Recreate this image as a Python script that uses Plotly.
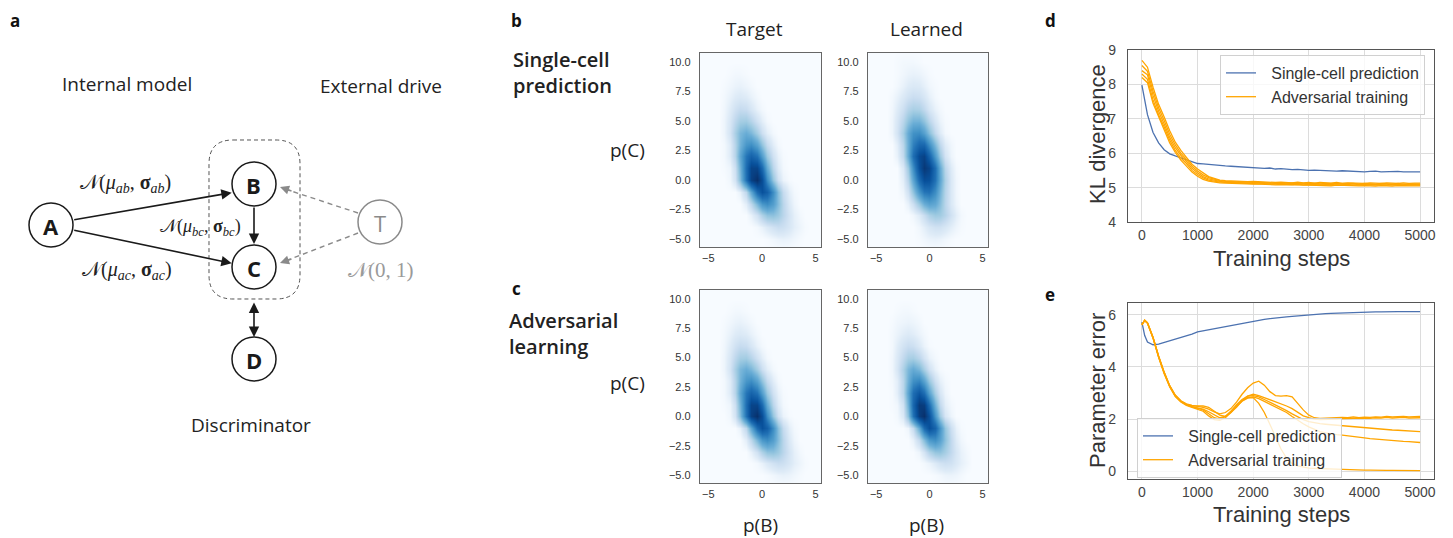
import plotly.graph_objects as go
import numpy as np

W, H = 1453, 538

# ---------------- DATA ----------------
# Panel d: KL divergence vs training steps
steps_kl = [0, 100, 200, 300, 400, 500, 600, 700, 800, 900,
            1000, 1100, 1200, 1300, 1400, 1500, 1600, 1700, 1800, 1900,
            2000, 2100, 2200, 2300, 2400, 2500, 2600, 2700, 2800, 2900,
            3000, 3100, 3200, 3300, 3400, 3500, 3600, 3700, 3800, 3900,
            4000, 4100, 4200, 4300, 4400, 4500, 4600, 4700, 4800, 4900, 5000]
kl_single = [7.98, 7.12, 6.60, 6.30, 6.10, 5.98, 5.92, 5.86, 5.80, 5.74,
             5.70, 5.69, 5.67, 5.66, 5.65, 5.63, 5.62, 5.61, 5.60, 5.58,
             5.59, 5.57, 5.56, 5.57, 5.54, 5.55, 5.53, 5.52, 5.53, 5.51,
             5.50, 5.51, 5.50, 5.49, 5.50, 5.48, 5.49, 5.48, 5.47, 5.48,
             5.46, 5.47, 5.48, 5.46, 5.47, 5.46, 5.47, 5.46, 5.45, 5.46, 5.46]
kl_adv_1 = [8.70, 8.50, 7.92, 7.42, 7.05, 6.65, 6.32, 6.08, 5.88, 5.68,
            5.54, 5.42, 5.32, 5.27, 5.22, 5.20, 5.19, 5.18, 5.18, 5.17,
            5.18, 5.17, 5.16, 5.17, 5.15, 5.16, 5.15, 5.14, 5.16, 5.14,
            5.15, 5.13, 5.15, 5.14, 5.13, 5.15, 5.12, 5.14, 5.13, 5.14,
            5.12, 5.14, 5.13, 5.12, 5.14, 5.13, 5.12, 5.14, 5.12, 5.13, 5.13]
kl_adv_2 = [8.55, 8.38, 7.80, 7.32, 6.95, 6.55, 6.24, 6.00, 5.82, 5.62,
            5.48, 5.37, 5.29, 5.24, 5.20, 5.18, 5.17, 5.16, 5.16, 5.16,
            5.15, 5.15, 5.14, 5.15, 5.14, 5.13, 5.14, 5.13, 5.12, 5.13,
            5.12, 5.13, 5.11, 5.12, 5.12, 5.11, 5.13, 5.11, 5.12, 5.10,
            5.12, 5.11, 5.10, 5.12, 5.11, 5.10, 5.12, 5.10, 5.11, 5.11, 5.10]
kl_adv_3 = [8.40, 8.28, 7.68, 7.22, 6.85, 6.46, 6.16, 5.94, 5.76, 5.56,
            5.43, 5.32, 5.25, 5.21, 5.18, 5.16, 5.15, 5.15, 5.14, 5.14,
            5.13, 5.14, 5.13, 5.12, 5.13, 5.12, 5.11, 5.12, 5.11, 5.12,
            5.10, 5.11, 5.10, 5.11, 5.09, 5.11, 5.10, 5.09, 5.11, 5.09,
            5.10, 5.09, 5.10, 5.09, 5.08, 5.10, 5.09, 5.08, 5.10, 5.09, 5.09]
kl_adv_4 = [8.30, 8.15, 7.55, 7.12, 6.76, 6.38, 6.08, 5.86, 5.70, 5.50,
            5.38, 5.28, 5.22, 5.18, 5.16, 5.15, 5.14, 5.13, 5.13, 5.12,
            5.12, 5.11, 5.12, 5.10, 5.11, 5.10, 5.10, 5.09, 5.10, 5.08,
            5.09, 5.08, 5.09, 5.07, 5.08, 5.08, 5.07, 5.08, 5.06, 5.08,
            5.07, 5.06, 5.08, 5.06, 5.07, 5.06, 5.07, 5.06, 5.07, 5.06, 5.07]
kl_adv_5 = [8.20, 8.05, 7.45, 7.04, 6.68, 6.30, 6.02, 5.80, 5.64, 5.45,
            5.33, 5.24, 5.19, 5.16, 5.14, 5.13, 5.12, 5.12, 5.11, 5.11,
            5.10, 5.10, 5.09, 5.10, 5.08, 5.09, 5.08, 5.07, 5.08, 5.07,
            5.07, 5.06, 5.07, 5.06, 5.05, 5.07, 5.06, 5.05, 5.06, 5.05,
            5.06, 5.05, 5.04, 5.06, 5.05, 5.04, 5.06, 5.05, 5.04, 5.05, 5.05]

# Panel e: parameter error vs training steps
steps_err = [0, 50, 100, 200, 300, 400, 500, 600, 700, 800, 900,
             1000, 1100, 1200, 1300, 1400, 1500, 1600, 1700, 1800, 1900,
             2000, 2100, 2200, 2300, 2400, 2500, 2600, 2700, 2800, 2900,
             3000, 3100, 3200, 3300, 3400, 3500, 3600, 3700, 3800, 3900,
             4000, 4100, 4200, 4300, 4400, 4500, 4600, 4700, 4800, 4900, 5000]
err_single = [5.72, 5.20, 4.95, 4.85, 4.87, 4.93, 5.00, 5.07, 5.14, 5.20, 5.26,
              5.34, 5.38, 5.43, 5.47, 5.51, 5.56, 5.60, 5.64, 5.68, 5.72,
              5.76, 5.79, 5.82, 5.85, 5.88, 5.90, 5.92, 5.94, 5.96, 5.98,
              6.00, 6.01, 6.03, 6.04, 6.05, 6.06, 6.07, 6.08, 6.09, 6.10,
              6.10, 6.11, 6.11, 6.11, 6.12, 6.12, 6.12, 6.12, 6.12, 6.12, 6.12]
err_adv_1 = [5.60, 5.80, 5.70, 5.14, 4.42, 3.80, 3.28, 2.92, 2.70, 2.58, 2.52,
             2.48, 2.45, 2.38, 2.27, 2.20, 2.25, 2.40, 2.65, 2.95, 3.20,
             3.38, 3.45, 3.30, 3.05, 2.90, 2.88, 2.90, 2.85, 2.60, 2.35,
             2.15, 2.05, 2.02, 2.03, 2.05, 2.04, 2.06, 2.05, 2.08, 2.05,
             2.07, 2.06, 2.08, 2.07, 2.10, 2.08, 2.09, 2.10, 2.08, 2.10, 2.10]
err_adv_2 = [5.63, 5.78, 5.68, 5.12, 4.40, 3.78, 3.27, 2.90, 2.69, 2.56, 2.51,
             2.50, 2.50, 2.45, 2.30, 2.15, 2.10, 2.25, 2.45, 2.70, 2.88,
             2.95, 2.90, 2.82, 2.75, 2.68, 2.60, 2.50, 2.40, 2.25, 2.12,
             2.05, 2.00, 1.98, 1.98, 2.00, 2.00, 2.02, 2.03, 2.02, 2.05,
             2.04, 2.03, 2.05, 2.04, 2.06, 2.04, 2.05, 2.06, 2.04, 2.05, 2.05]
err_adv_3 = [5.62, 5.79, 5.69, 5.10, 4.38, 3.76, 3.25, 2.88, 2.67, 2.54, 2.48,
             2.40, 2.35, 2.20, 2.05, 2.00, 2.10, 2.30, 2.55, 2.75, 2.88,
             2.90, 2.85, 2.75, 2.65, 2.55, 2.45, 2.32, 2.20, 2.08, 1.98,
             1.90, 1.85, 1.82, 1.80, 1.78, 1.76, 1.74, 1.72, 1.70, 1.68,
             1.66, 1.64, 1.63, 1.61, 1.60, 1.58, 1.57, 1.56, 1.55, 1.54, 1.52]
err_adv_4 = [5.64, 5.77, 5.67, 5.11, 4.37, 3.74, 3.23, 2.86, 2.65, 2.52, 2.45,
             2.38, 2.30, 2.12, 1.98, 1.95, 2.05, 2.25, 2.50, 2.70, 2.82,
             2.85, 2.78, 2.68, 2.58, 2.48, 2.38, 2.25, 2.10, 1.95, 1.82,
             1.70, 1.60, 1.52, 1.47, 1.43, 1.40, 1.38, 1.36, 1.33, 1.30,
             1.28, 1.25, 1.23, 1.20, 1.19, 1.17, 1.16, 1.14, 1.13, 1.12, 1.10]
err_adv_5 = [5.61, 5.78, 5.68, 5.13, 4.41, 3.79, 3.26, 2.89, 2.68, 2.55, 2.47,
             2.42, 2.38, 2.28, 2.15, 2.05, 2.10, 2.30, 2.50, 2.68, 2.80,
             2.82, 2.60, 2.25, 1.80, 1.30, 0.85, 0.50, 0.30, 0.20, 0.15,
             0.12, 0.11, 0.10, 0.10, 0.10, 0.08, 0.08, 0.07, 0.05, 0.05,
             0.04, 0.04, 0.03, 0.04, 0.03, 0.03, 0.03, 0.02, 0.03, 0.02, 0.02]

# Panels b/c: binned densities (relative intensity 0-10) of p(B) vs p(C)
hex_x_centers = [-6.0, -5.5, -5.0, -4.5, -4.0, -3.5, -3.0, -2.5, -2.0, -1.5, -1.0, -0.5,
                 0.0, 0.5, 1.0, 1.5, 2.0, 2.5, 3.0, 3.5, 4.0, 4.5, 5.0, 5.5, 6.0]
hex_y_centers = [-6, -5, -4, -3, -2, -1, 0, 1, 2, 3, 4, 5, 6, 7, 8, 9, 10, 11]
# each row: y -> (first x centre, intensities along x at 0.5 steps)
target_rows = {
    9: (-3.0, [0.05, 0.1, 0.1, 0.05]),
    8: (-3.5, [0.05, 0.15, 0.25, 0.3, 0.2, 0.1]),
    7: (-3.5, [0.1, 0.3, 0.5, 0.6, 0.5, 0.3, 0.1]),
    6: (-3.5, [0.15, 0.5, 0.9, 1.2, 1.1, 0.7, 0.3, 0.1]),
    5: (-3.5, [0.2, 0.7, 1.4, 2.0, 2.1, 1.6, 0.9, 0.4, 0.1]),
    4: (-3.5, [0.2, 0.8, 1.9, 3.0, 3.5, 3.0, 2.0, 1.0, 0.4, 0.1]),
    3: (-3.5, [0.1, 0.5, 1.6, 3.2, 4.6, 5.0, 4.0, 2.5, 1.2, 0.45, 0.1]),
    2: (-3.5, [0.1, 0.5, 1.6, 3.8, 6.0, 7.0, 6.2, 4.2, 2.2, 0.9, 0.3, 0.05]),
    1: (-3.5, [0.05, 0.2, 1.0, 3.2, 6.4, 8.8, 8.8, 6.6, 3.6, 1.5, 0.5, 0.1]),
    0: (-3.0, [0.15, 0.8, 2.8, 6.2, 9.0, 10.0, 8.2, 5.0, 2.4, 0.9, 0.25, 0.05]),
    -1: (-2.0, [0.3, 1.4, 3.8, 6.6, 8.0, 7.2, 5.0, 2.7, 1.2, 0.4, 0.1]),
    -2: (-1.5, [0.4, 1.4, 3.0, 4.5, 5.0, 4.2, 2.8, 1.5, 0.6, 0.2]),
    -3: (-1.0, [0.3, 0.9, 1.8, 2.5, 2.6, 2.2, 1.5, 0.8, 0.35, 0.1]),
    -4: (-0.5, [0.1, 0.3, 0.6, 0.9, 1.1, 1.0, 0.7, 0.4, 0.2, 0.05]),
    -5: (0.5, [0.05, 0.15, 0.25, 0.3, 0.25, 0.15, 0.05]),
}
learned_single_rows = {
    10: (-3.0, [0.05, 0.1, 0.1, 0.1, 0.05]),
    9: (-3.0, [0.05, 0.15, 0.25, 0.3, 0.25, 0.15, 0.05]),
    8: (-3.0, [0.1, 0.3, 0.5, 0.6, 0.55, 0.35, 0.15, 0.05]),
    7: (-3.5, [0.1, 0.3, 0.6, 0.9, 1.1, 1.0, 0.7, 0.35, 0.1]),
    6: (-3.5, [0.15, 0.5, 1.0, 1.6, 1.9, 1.8, 1.3, 0.7, 0.3, 0.1]),
    5: (-3.5, [0.2, 0.7, 1.5, 2.5, 3.2, 3.2, 2.5, 1.5, 0.7, 0.25, 0.05]),
    4: (-3.5, [0.2, 0.8, 2.0, 3.6, 4.8, 5.0, 4.1, 2.7, 1.3, 0.5, 0.1]),
    3: (-3.0, [0.4, 1.5, 3.5, 5.6, 6.8, 6.8, 5.0, 3.0, 1.4, 0.5, 0.15]),
    2: (-3.0, [0.3, 1.3, 3.6, 6.4, 8.4, 8.9, 7.0, 4.4, 2.2, 0.8, 0.2]),
    1: (-2.5, [0.6, 2.2, 5.0, 8.0, 9.5, 8.8, 6.4, 3.6, 1.5, 0.5, 0.1]),
    0: (-2.5, [0.4, 1.6, 3.9, 6.6, 8.2, 8.0, 6.2, 3.8, 1.8, 0.6, 0.15]),
    -1: (-2.5, [0.2, 0.9, 2.5, 4.6, 6.0, 6.2, 5.0, 3.2, 1.6, 0.6, 0.15]),
    -2: (-2.0, [0.3, 1.0, 2.2, 3.4, 4.0, 3.7, 2.7, 1.5, 0.6, 0.2]),
    -3: (-1.5, [0.15, 0.5, 1.1, 1.8, 2.2, 2.1, 1.6, 0.9, 0.4, 0.1]),
    -4: (-1.0, [0.15, 0.4, 0.7, 0.9, 0.9, 0.7, 0.4, 0.2, 0.05]),
    -5: (-1.0, [0.05, 0.15, 0.25, 0.3, 0.25, 0.15, 0.05]),
}
learned_adv_rows = {
    9: (-3.0, [0.05, 0.1, 0.1, 0.05]),
    8: (-3.5, [0.05, 0.15, 0.2, 0.25, 0.2, 0.1]),
    7: (-3.5, [0.1, 0.25, 0.45, 0.55, 0.45, 0.25, 0.1]),
    6: (-3.5, [0.1, 0.45, 0.85, 1.1, 1.0, 0.6, 0.25, 0.05]),
    5: (-3.5, [0.15, 0.6, 1.3, 1.9, 2.0, 1.5, 0.8, 0.3, 0.1]),
    4: (-3.5, [0.15, 0.7, 1.8, 3.0, 3.6, 3.0, 1.9, 0.9, 0.3, 0.05]),
    3: (-3.5, [0.1, 0.4, 1.5, 3.3, 4.9, 5.3, 4.0, 2.3, 1.0, 0.35, 0.1]),
    2: (-3.5, [0.05, 0.4, 1.5, 3.9, 6.4, 7.6, 6.4, 4.0, 1.9, 0.7, 0.2]),
    1: (-3.5, [0.05, 0.15, 0.9, 3.3, 6.8, 9.4, 9.2, 6.5, 3.3, 1.3, 0.4, 0.1]),
    0: (-3.0, [0.1, 0.6, 2.6, 6.2, 9.2, 10.0, 8.0, 4.6, 2.1, 0.7, 0.2]),
    -1: (-2.0, [0.2, 1.2, 3.6, 6.6, 8.1, 7.0, 4.6, 2.4, 1.0, 0.3, 0.05]),
    -2: (-1.5, [0.3, 1.2, 2.8, 4.4, 4.9, 4.0, 2.6, 1.3, 0.5, 0.15]),
    -3: (-1.0, [0.2, 0.8, 1.7, 2.4, 2.5, 2.0, 1.3, 0.7, 0.3, 0.1]),
    -4: (-0.5, [0.1, 0.25, 0.55, 0.85, 1.0, 0.9, 0.6, 0.35, 0.15]),
    -5: (0.5, [0.05, 0.12, 0.22, 0.25, 0.2, 0.1]),
}
hex_yticks = [-5.0, -2.5, 0.0, 2.5, 5.0, 7.5, 10.0]
hex_xticks = [-5, 0, 5]
step_ticks = [0, 1000, 2000, 3000, 4000, 5000]
kl_ticks = [4, 5, 6, 7, 8, 9]
err_ticks = [0, 2, 4, 6]
series_names = ["Single-cell prediction", "Adversarial training"]

# ---------------- STYLE ----------------
BLUE = "#4c72b0"
ORANGE = "#ffa500"
TXT = "#222222"
SANS = "Open Sans"
TICKF = "Liberation Sans"
BLUES = [[0, "#f7fbff"], [0.05, "#deebf7"], [0.12, "#c6dbef"], [0.22, "#9ecae1"],
         [0.34, "#6baed6"], [0.48, "#4292c6"], [0.62, "#2171b5"], [0.8, "#08519c"],
         [1, "#08306b"]]
LEG_PAD = "\u2007\u200a"  # small visual gap between legend line sample and its text


def fx(x):
    return x / W


def fy(y):
    return 1 - y / H


def dom(x0, x1, y0, y1):
    return [fx(x0), fx(x1)], [fy(y1), fy(y0)]


def density_grid(rows):
    z = np.zeros((len(hex_y_centers), len(hex_x_centers)))
    for yv, (start, vals) in rows.items():
        i = hex_y_centers.index(yv)
        j0 = hex_x_centers.index(start)
        for k, v in enumerate(vals):
            z[i, j0 + k] = v
    return z


fig = go.Figure()

hex_panels = [
    ("x", "y", target_rows, (700, 821, 53, 247)),
    ("x2", "y2", learned_single_rows, (868, 988, 53, 247)),
    ("x3", "y3", target_rows, (700, 821, 290, 483)),
    ("x4", "y4", learned_adv_rows, (868, 988, 290, 483)),
]
layout_axes = {}
for xa, ya, rows, box in hex_panels:
    fig.add_trace(go.Heatmap(x=hex_x_centers, y=hex_y_centers, z=density_grid(rows),
                             colorscale=BLUES, zmin=0, zmax=10, zsmooth="best",
                             showscale=False, hoverinfo="skip", xaxis=xa, yaxis=ya))
    dx, dy = dom(*box)
    xk = "xaxis" + xa[1:]
    yk = "yaxis" + ya[1:]
    layout_axes[xk] = dict(domain=dx, anchor=ya, range=[-5.77, 5.5], tickvals=hex_xticks,
                           showgrid=False, zeroline=False, showline=True, mirror=True,
                           linecolor="#666666", linewidth=1.3, ticks="", automargin=False,
                           tickfont=dict(family=TICKF, size=11, color="#333333"),
                           ticklabelstandoff=1, fixedrange=True)
    layout_axes[yk] = dict(domain=dy, anchor=xa, range=[-5.68, 10.76], tickvals=hex_yticks,
                           tickformat=".1f", showgrid=False, zeroline=False, showline=True,
                           mirror=True, linecolor="#666666", linewidth=1.3, ticks="",
                           automargin=False,
                           tickfont=dict(family=TICKF, size=11, color="#333333"),
                           ticklabelstandoff=6, fixedrange=True)

# Panel d
fig.add_trace(go.Scatter(x=steps_kl, y=kl_single, mode="lines", name=LEG_PAD + series_names[0],
                         line=dict(color=BLUE, width=1.3), legend="legend",
                         xaxis="x5", yaxis="y5", hoverinfo="skip"))
for i, run in enumerate([kl_adv_1, kl_adv_2, kl_adv_3, kl_adv_4, kl_adv_5]):
    fig.add_trace(go.Scatter(x=steps_kl, y=run, mode="lines", name=LEG_PAD + series_names[1],
                             line=dict(color=ORANGE, width=1.3), legend="legend",
                             legendgroup="advd", showlegend=(i == 0),
                             xaxis="x5", yaxis="y5", hoverinfo="skip"))
# Panel e
fig.add_trace(go.Scatter(x=steps_err, y=err_single, mode="lines", name=LEG_PAD + series_names[0],
                         line=dict(color=BLUE, width=1.3), legend="legend2",
                         xaxis="x6", yaxis="y6", hoverinfo="skip"))
for i, run in enumerate([err_adv_1, err_adv_2, err_adv_3, err_adv_4, err_adv_5]):
    fig.add_trace(go.Scatter(x=steps_err, y=run, mode="lines", name=LEG_PAD + series_names[1],
                             line=dict(color=ORANGE, width=1.3), legend="legend2",
                             legendgroup="adve", showlegend=(i == 0),
                             xaxis="x6", yaxis="y6", hoverinfo="skip"))

line_common = dict(showgrid=True, gridcolor="#dcdcdc", gridwidth=1, zeroline=False,
                   showline=True, mirror=True, linecolor="#555555", linewidth=1.3, ticks="",
                   automargin=False,
                   tickfont=dict(family=TICKF, size=14, color="#444444"), fixedrange=True)
dx, dy = dom(1128, 1434, 50, 222)
layout_axes["xaxis5"] = dict(domain=dx, anchor="y5", range=[-250, 5250], tickvals=step_ticks,
                             ticklabelstandoff=0, **line_common)
layout_axes["yaxis5"] = dict(domain=dy, anchor="x5", range=[4, 9], tickvals=kl_ticks,
                             ticklabelstandoff=8, **line_common)
dx, dy = dom(1128, 1434, 303, 479)
layout_axes["xaxis6"] = dict(domain=dx, anchor="y6", range=[-250, 5250], tickvals=step_ticks,
                             ticklabelstandoff=0, **line_common)
layout_axes["yaxis6"] = dict(domain=dy, anchor="x6", range=[-0.3, 6.45], tickvals=err_ticks,
                             ticklabelstandoff=8, **line_common)

# ---------------- ANNOTATIONS & DIAGRAM ----------------
ann = []
shapes = []


def text(x, y, s, size=19, color=TXT, family=SANS, xanchor="center", angle=0, weight=None,
         align="center"):
    f = dict(family=family, size=size, color=color)
    if weight:
        f["weight"] = weight
    ann.append(dict(x=fx(x), y=fy(y), xref="paper", yref="paper", text=s, showarrow=False,
                    xanchor=xanchor, yanchor="middle", font=f, textangle=angle, align=align))


# panel letters
for lx, ly, l in [(15, 21, "a"), (516, 21, "b"), (516, 288, "c"), (1050, 21, "d"), (1050, 294, "e")]:
    text(lx, ly, "<b>%s</b>" % l, size=17, color="#111111", xanchor="center")

# panel a texts
text(127, 84, "Internal model", size=19)
text(381, 86, "External drive", size=19)
text(251, 425, "Discriminator", size=19)
MATH = "Liberation Serif"
text(125, 183, "𝒩(<i>μ</i><sub><i>ab</i></sub>, <b>σ</b><sub><i>ab</i></sub>)", size=20, family=MATH)
text(200, 227, "𝒩(<i>μ</i><sub><i>bc</i></sub>, <b>σ</b><sub><i>bc</i></sub>)", size=18, family=MATH)
text(127, 270, "𝒩(<i>μ</i><sub><i>ac</i></sub>, <b>σ</b><sub><i>ac</i></sub>)", size=20, family=MATH)
text(381, 270, "𝒩(0, 1)", size=21, family=MATH, color="#9a9a9a")

# rounded dashed box
bx0, bx1, by0, by1, rr = 209, 300, 140, 299, 24
pts = [("M", bx0 + rr, by0), ("L", bx1 - rr, by0), ("Q", bx1, by0, bx1, by0 + rr),
       ("L", bx1, by1 - rr), ("Q", bx1, by1, bx1 - rr, by1), ("L", bx0 + rr, by1),
       ("Q", bx0, by1, bx0, by1 - rr), ("L", bx0, by0 + rr), ("Q", bx0, by0, bx0 + rr, by0)]
path = ""
for p in pts:
    cmd = p[0]
    coords = p[1:]
    seg = []
    for k in range(0, len(coords), 2):
        seg.append("%.5f,%.5f" % (fx(coords[k]), fy(coords[k + 1])))
    path += cmd + " " + " ".join(seg) + " "
path += "Z"
shapes.append(dict(type="path", path=path, xref="paper", yref="paper",
                   line=dict(color="#555555", width=1, dash="4px,3px")))

# dashed grey lines from T
for (x0, y0, x1, y1) in [(358, 213, 288, 190), (358, 233, 288, 260)]:
    shapes.append(dict(type="line", xref="paper", yref="paper", x0=fx(x0), y0=fy(y0),
                       x1=fx(x1), y1=fy(y1), line=dict(color="#8a8a8a", width=1.4, dash="5px,4px")))


def arrow(tx, ty, hx, hy, color="#1a1a1a", both=False, width=1.6):
    ann.append(dict(x=fx(hx), y=fy(hy), xref="paper", yref="paper", text="",
                    showarrow=True, ax=tx - hx, ay=ty - hy, axref="pixel", ayref="pixel",
                    arrowhead=2, arrowsize=1.3, arrowwidth=width, arrowcolor=color,
                    arrowside="end+start" if both else "end", startarrowhead=2,
                    startarrowsize=1.3))


arrow(72.7, 220, 231.7, 192.7)
arrow(72.7, 230, 231.7, 263.3)
arrow(254, 206, 254, 244)
arrow(254, 301, 254, 337, both=True)
arrow(293, 191.5, 280, 187, color="#8a8a8a", width=1.4)
arrow(293, 258.5, 280, 263, color="#8a8a8a", width=1.4)

# nodes
for cx, cy, lab, col, bold in [(51, 225, "A", "#1a1a1a", True), (254, 184, "B", "#1a1a1a", True),
                               (254, 267, "C", "#1a1a1a", True), (254, 359, "D", "#1a1a1a", True),
                               (380, 222, "T", "#8a8a8a", False)]:
    r = 22
    shapes.append(dict(type="circle", xref="paper", yref="paper", x0=fx(cx - r), x1=fx(cx + r),
                       y0=fy(cy + r), y1=fy(cy - r), line=dict(color=col, width=1.5),
                       fillcolor="white", layer="above"))
    text(cx, cy + 1, ("<b>%s</b>" % lab) if bold else lab, size=22, color=col)

# panel b/c texts
text(755, 29, "Target", size=19)
text(926, 29, "Learned", size=19)
text(511, 73, "Single-cell<br>prediction", size=20, xanchor="left", weight=600, align="left")
text(507, 333, "Adversarial<br>learning", size=20, xanchor="left", weight=600, align="left")
text(627, 150, "p(C)", size=19)
text(627, 383, "p(C)", size=19)
text(760, 525, "p(B)", size=19)
text(926, 525, "p(B)", size=19)

# panel d/e axis titles
text(1097, 134, "KL divergence", size=22, family=TICKF, color="#333333", angle=-90)
text(1281, 258, "Training steps", size=22, family=TICKF, color="#333333")
text(1097, 391, "Parameter error", size=22, family=TICKF, color="#333333", angle=-90)
text(1281, 514, "Training steps", size=22, family=TICKF, color="#333333")

legend_common = dict(xanchor="left", yanchor="top", bgcolor="rgba(255,255,255,0.8)",
                     bordercolor="#d0d0d0", borderwidth=1, tracegroupgap=0,
                     font=dict(family=TICKF, size=16, color="#333333"), itemwidth=30)

fig.update_layout(
    width=W, height=H, margin=dict(l=0, r=0, t=0, b=0, pad=0, autoexpand=False),
    paper_bgcolor="white", plot_bgcolor="white", showlegend=True,
    legend=dict(x=fx(1220), y=fy(55), **legend_common),
    legend2=dict(x=fx(1137), y=fy(418), **legend_common),
    annotations=ann, shapes=shapes, **layout_axes,
)

fig.write_html("out.html", config={"responsive": False, "displayModeBar": False},
               post_script="document.body.style.margin='0';document.body.style.overflow='hidden';")
